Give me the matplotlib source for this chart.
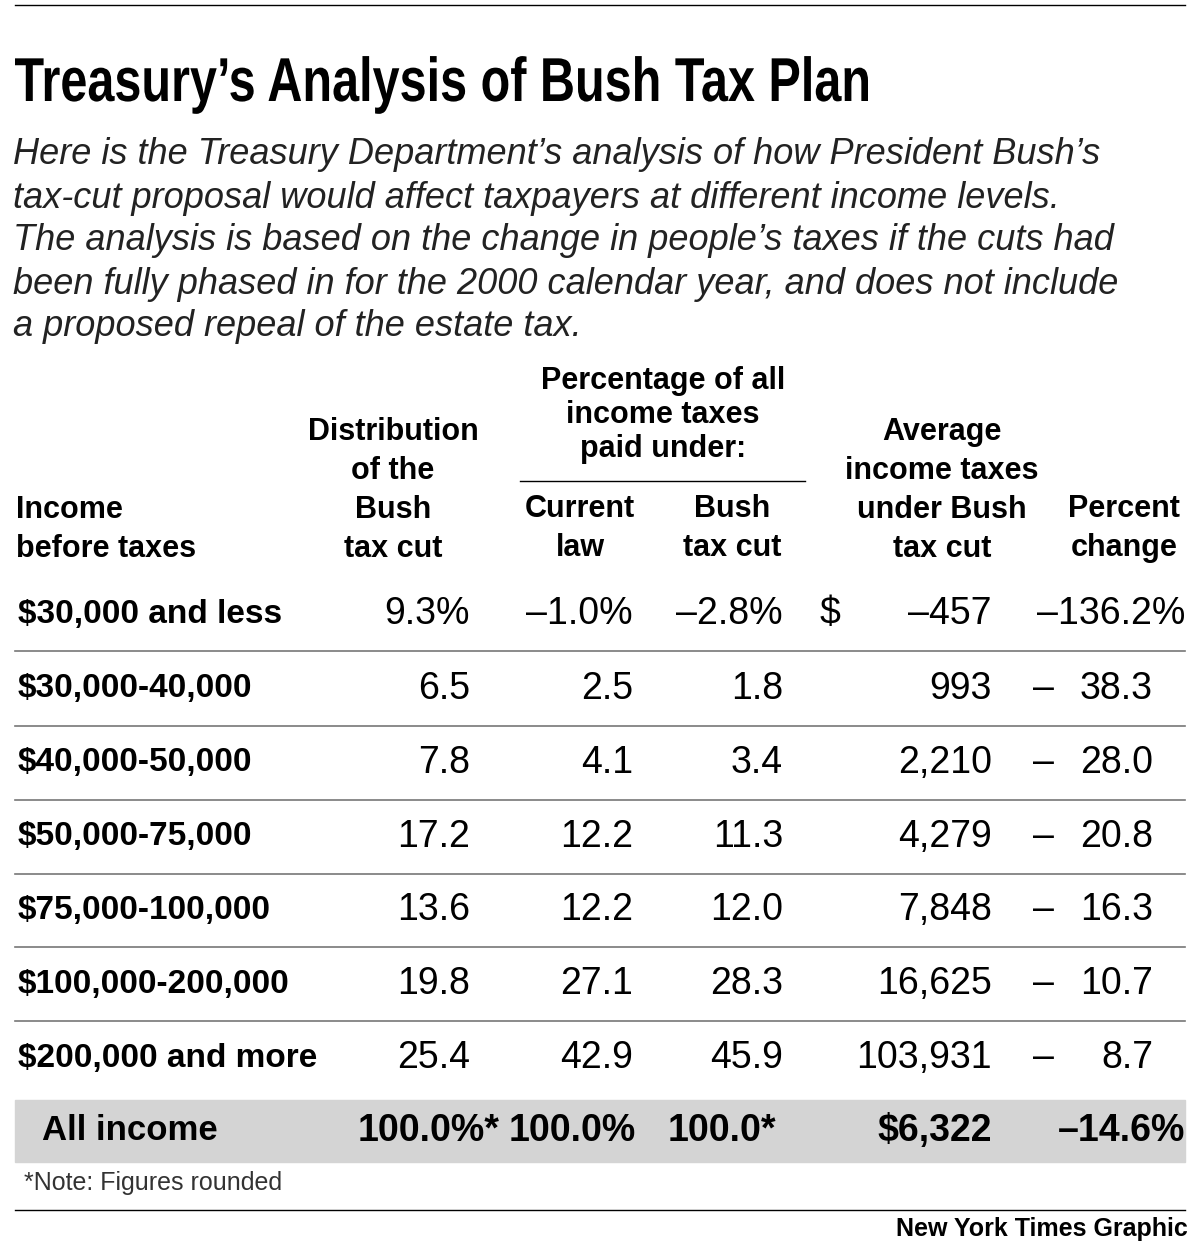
import matplotlib
matplotlib.use("Agg")
import matplotlib.pyplot as plt
from matplotlib.patches import Rectangle, PathPatch
from matplotlib.lines import Line2D
from matplotlib.textpath import TextPath
from matplotlib.font_manager import FontProperties
from matplotlib.transforms import Affine2D

income = ["$30,000 and less", "$30,000-40,000", "$40,000-50,000", "$50,000-75,000",
          "$75,000-100,000", "$100,000-200,000", "$200,000 and more"]
distribution = ["9.3%", "6.5", "7.8", "17.2", "13.6", "19.8", "25.4"]
current_law = ["\u20131.0%", "2.5", "4.1", "12.2", "12.2", "27.1", "42.9"]
bush_cut = ["\u20132.8%", "1.8", "3.4", "11.3", "12.0", "28.3", "45.9"]
avg_taxes = ["\u2013457", "993", "2,210", "4,279", "7,848", "16,625", "103,931"]
pct_change = ["\u2013136.2%", "38.3", "28.0", "20.8", "16.3", "10.7", "8.7"]
totals = ["All income", "100.0%*", "100.0%", "100.0*", "$6,322", "\u201314.6%"]

W, H = 1200, 1251
fig = plt.figure(figsize=(12, 12.51), dpi=100)
ax = fig.add_axes([0, 0, 1, 1])
ax.set_xlim(0, W); ax.set_ylim(H, 0); ax.axis("off")
SANS = ["Liberation Sans", "DejaVu Sans"]

def t(x, y, s, size=20, ha="left", weight="normal", style="normal", family=None, va="center", **kw):
    ax.text(x, y, s, fontsize=size, ha=ha, va=va, weight=weight, style=style,
            family=family or SANS, **kw)

def squeezed(s, x0, baseline, size, width, bold=True):
    fp = FontProperties(family="Liberation Sans", weight="bold" if bold else "normal")
    p = TextPath((0, 0), s, size=size, prop=fp)
    ext = p.get_extents()
    sx = width / ext.width
    tr = Affine2D().translate(-ext.x0, 0).scale(sx, -1).translate(x0, baseline) + ax.transData
    ax.add_patch(PathPatch(p, transform=tr, color="black", lw=0))

ax.add_line(Line2D([15, 1185], [5, 5], color="black", lw=1))
squeezed("Treasury\u2019s Analysis of Bush Tax Plan", 15, 101, 62, 853)
sub = ["Here is the Treasury Department\u2019s analysis of how President Bush\u2019s",
       "tax-cut proposal would affect taxpayers at different income levels.",
       "The analysis is based on the change in people\u2019s taxes if the cuts had",
       "been fully phased in for the 2000 calendar year, and does not include",
       "a proposed repeal of the estate tax."]
for i, s in enumerate(sub):
    t(13, 155 + i * 43, s, size=26, style="italic", color="#222222")

hs = 22
t(16, 510, "Income", size=hs, weight="bold")
t(16, 549, "before taxes", size=hs, weight="bold")
for i, s in enumerate(["Distribution", "of the", "Bush", "tax cut"]):
    t(393, 432 + i * 39, s, size=hs, weight="bold", ha="center")
for i, s in enumerate(["Percentage of all", "income taxes", "paid under:"]):
    t(663, 381 + i * 34, s, size=hs, weight="bold", ha="center")
ax.add_line(Line2D([520, 805], [481, 481], color="black", lw=1))
for i, s in enumerate(["Current", "law"]):
    t(580, 509 + i * 39, s, size=hs, weight="bold", ha="center")
for i, s in enumerate(["Bush", "tax cut"]):
    t(732, 509 + i * 39, s, size=hs, weight="bold", ha="center")
for i, s in enumerate(["Average", "income taxes", "under Bush", "tax cut"]):
    t(942, 432 + i * 39, s, size=hs, weight="bold", ha="center")
for i, s in enumerate(["Percent", "change"]):
    t(1124, 509 + i * 39, s, size=hs, weight="bold", ha="center")

ys = [614, 689, 763, 837, 910, 984, 1058]
ds = 27
for i, y in enumerate(ys):
    t(18, y, income[i], size=24, weight="bold")
    t(470, y, distribution[i], size=ds, ha="right")
    t(633, y, current_law[i], size=ds, ha="right")
    t(783, y, bush_cut[i], size=ds, ha="right")
    if i == 0:
        t(820, y, "$", size=ds)
    t(992, y, avg_taxes[i], size=ds, ha="right")
    if i == 0:
        t(1185, y, pct_change[i], size=ds, ha="right")
    else:
        t(1033, y, "\u2013", size=ds)
        t(1153, y, pct_change[i], size=ds, ha="right")
    if i < len(ys) - 1:
        ax.add_line(Line2D([15, 1185], [y + 37, y + 37], color="#777777", lw=1.2))

ax.add_patch(Rectangle((15, 1100), 1170, 62, color="#d4d4d4", zorder=0))
ty = 1131
t(42, ty, totals[0], size=25, weight="bold")
t(500, ty, totals[1], size=ds, weight="bold", ha="right")
t(636, ty, totals[2], size=ds, weight="bold", ha="right")
t(776, ty, totals[3], size=ds, weight="bold", ha="right")
t(992, ty, totals[4], size=ds, weight="bold", ha="right")
t(1185, ty, totals[5], size=ds, weight="bold", ha="right")

t(24, 1183, "*Note: Figures rounded", size=18, color="#333333")
ax.add_line(Line2D([15, 1185], [1210, 1210], color="black", lw=1))
t(1188, 1229, "New York Times Graphic", size=18, ha="right", weight="bold")

fig.savefig("out.png", dpi=100, facecolor="white")
